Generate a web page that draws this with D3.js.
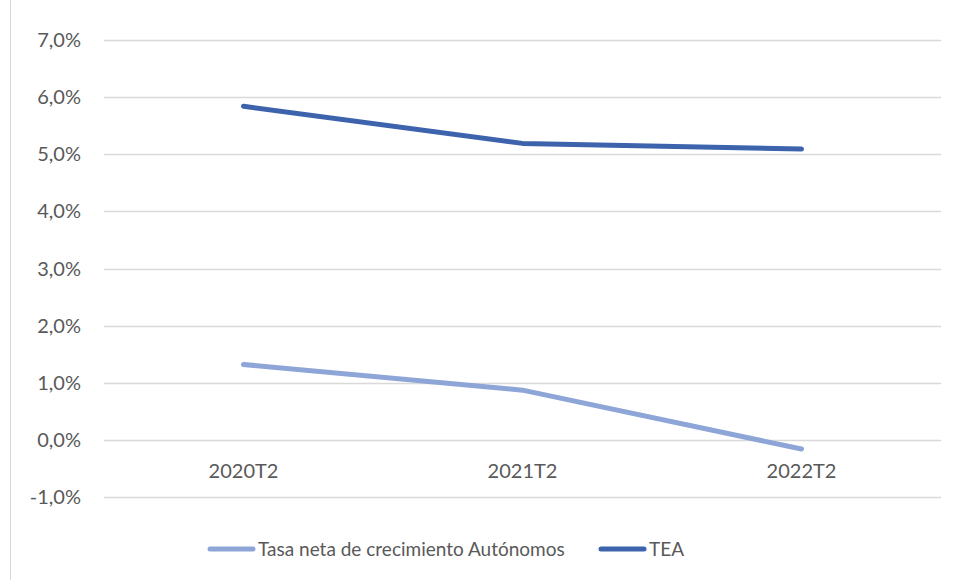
<!DOCTYPE html>
<html lang="es">
<head>
<meta charset="utf-8">
<title>TEA y autónomos</title>
<script src="https://cdn.jsdelivr.net/npm/d3@7"></script>
<style>
  body { margin: 0; background: #fff; }
  text { font-family: Lato, "Open Sans", sans-serif; fill: #595959; }
</style>
</head>
<body>
<svg id="chart" width="957" height="580"></svg>
<script>
// data
const periods = ['2020T2', '2021T2', '2022T2'];
const autonomos = [1.32, 0.87, -0.16];
const tea = [5.84, 5.19, 5.09];
const yTicks = [-1, 0, 1, 2, 3, 4, 5, 6, 7];

const seriesNames = ['Tasa neta de crecimiento Autónomos', 'TEA'];
const seriesColors = ['#8EA5D8', '#3D63AD'];

const svg = d3.select('#chart');
const margin = {top: 40, left: 104, right: 16, bottom: 83};
const width = 957 - margin.left - margin.right;
const height = 580 - margin.top - margin.bottom;

// chart frame, only left edge shows in the crop
svg.append('line')
    .attr('x1', 10.5).attr('x2', 10.5)
    .attr('y1', 0).attr('y2', 580)
    .attr('stroke', '#d9d9d9');

const g = svg.append('g').attr('transform', `translate(${margin.left},${margin.top})`);

const x = d3.scalePoint().domain(periods).range([0, width]).padding(0.5);
const y = d3.scaleLinear().domain([-1, 7]).range([height, 0]);

// gridlines
g.selectAll('.grid')
    .data(yTicks)
    .enter().append('line')
    .attr('class', 'grid')
    .attr('x1', 0).attr('x2', width)
    .attr('y1', d => Math.round(y(d)) + 0.5)
    .attr('y2', d => Math.round(y(d)) + 0.5)
    .attr('stroke', '#d9d9d9')
    .attr('stroke-width', 1.3);

// y labels
g.selectAll('.ylab')
    .data(yTicks)
    .enter().append('text')
    .attr('x', -23)
    .attr('y', d => y(d))
    .attr('dy', '0.35em')
    .attr('text-anchor', 'end')
    .style('font-size', '20px')
    .text(d => d.toFixed(1).replace('.', ',') + '%');

// x labels, sitting under the zero line
g.selectAll('.xlab')
    .data(periods)
    .enter().append('text')
    .attr('x', d => x(d))
    .attr('y', y(0) + 38)
    .attr('text-anchor', 'middle')
    .style('font-size', '20px')
    .text(d => d);

const line = d3.line()
    .x((d, i) => x(periods[i]))
    .y(d => y(d));

[autonomos, tea].forEach((vals, i) => {
    g.append('path')
        .datum(vals)
        .attr('d', line)
        .attr('fill', 'none')
        .attr('stroke', seriesColors[i])
        .attr('stroke-width', 5)
        .attr('stroke-linecap', 'round')
        .attr('stroke-linejoin', 'round');
});

// legend
const legendItems = [
    {name: seriesNames[0], color: seriesColors[0], x: 210},
    {name: seriesNames[1], color: seriesColors[1], x: 601}
];
const lg = svg.append('g').attr('transform', 'translate(0,549)');
legendItems.forEach(it => {
    lg.append('line')
        .attr('x1', it.x).attr('x2', it.x + 43)
        .attr('y1', 0).attr('y2', 0)
        .attr('stroke', it.color)
        .attr('stroke-width', 5)
        .attr('stroke-linecap', 'round');
    lg.append('text')
        .attr('x', it.x + 48)
        .attr('y', 0)
        .attr('dy', '0.35em')
        .style('font-size', '19px')
        .text(it.name);
});
</script>
</body>
</html>
